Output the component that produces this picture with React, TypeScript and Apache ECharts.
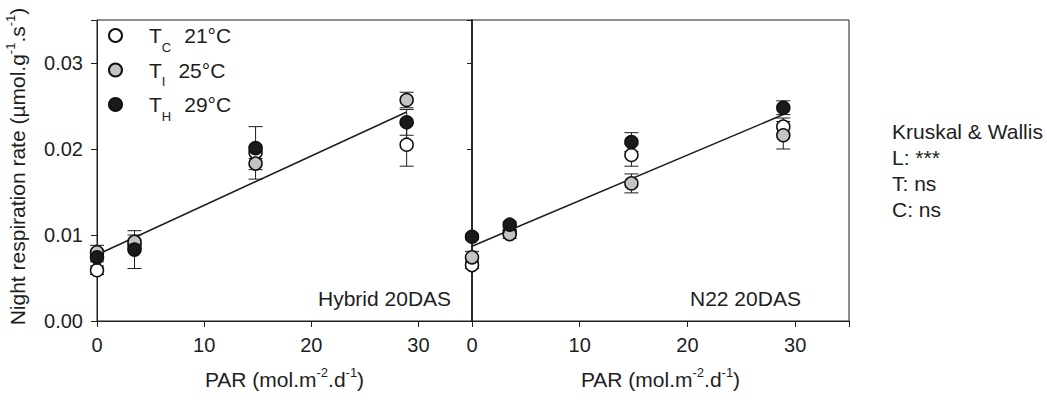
import React, { useEffect, useRef } from 'react';
import * as echarts from 'echarts';

// PAR levels (mol.m-2.d-1)
const par = [0, 3.5, 14.8, 28.9];
const seriesNames = ['Tc', 'Ti', 'Th'];
const legendSub = ['C', 'I', 'H'];
const legendTemp = ['21°C', '25°C', '29°C'];
const xTicks = [0, 10, 20, 30];
const yTicks = [0, 0.01, 0.02, 0.03];

// Hybrid 20DAS
const hybTc = [0.0059, 0.0088, 0.0196, 0.0205];
const hybTcErr = [0.0005, 0.0005, 0.0007, 0.0025];
const hybTi = [0.0080, 0.0092, 0.0183, 0.0257];
const hybTiErr = [0.0008, 0.0008, 0.0018, 0.0009];
const hybTh = [0.0074, 0.0083, 0.0201, 0.0231];
const hybThErr = [0.0005, 0.0022, 0.0025, 0.0015];
// N22 20DAS
const n22Tc = [0.0065, 0.0103, 0.0193, 0.0226];
const n22TcErr = [0.0004, 0.0003, 0.0013, 0.0010];
const n22Ti = [0.0074, 0.0101, 0.0160, 0.0216];
const n22TiErr = [0.0007, 0.0005, 0.0011, 0.0016];
const n22Th = [0.0098, 0.0112, 0.0208, 0.0248];
const n22ThErr = [0.0003, 0.0003, 0.0011, 0.0008];
// regression lines (end points)
const fitX = [0, 28.9];
const hybFit = [0.0077, 0.0243];
const n22Fit = [0.0087, 0.0240];

const panelLabels = ['Hybrid 20DAS', 'N22 20DAS'];
const statsLines = ['Kruskal & Wallis', 'L: ***', 'T: ns', 'C: ns'];

const FONT = 'Liberation Sans, Arial, Helvetica, sans-serif';
const INK = '#1e1e1e';
const fills = ['#ffffff', '#c3c3c3', '#1a1a1a'];

export default function App() {
  const ref = useRef<HTMLDivElement>(null);
  useEffect(() => {
    if (!ref.current) return;
    const chart = echarts.init(ref.current, undefined, { renderer: 'svg' });

    const panels = [
      { vals: [hybTc, hybTi, hybTh], errs: [hybTcErr, hybTiErr, hybThErr], fit: hybFit },
      { vals: [n22Tc, n22Ti, n22Th], errs: [n22TcErr, n22TiErr, n22ThErr], fit: n22Fit },
    ];

    const series: any[] = [];
    panels.forEach((p, pi) => {
      // error bars
      p.vals.forEach((vals, si) => {
        series.push({
          type: 'custom',
          name: seriesNames[si] + '_err',
          xAxisIndex: pi,
          yAxisIndex: pi,
          z: 1,
          silent: true,
          data: vals.map((v, i) => [par[i], v, p.errs[si][i]]),
          renderItem: (params: any, api: any) => {
            const x = api.value(0);
            const y = api.value(1);
            const e = api.value(2);
            const top = api.coord([x, y + e]);
            const bot = api.coord([x, y - e]);
            const hw = 7;
            const st = { stroke: INK, lineWidth: 1 };
            return {
              type: 'group',
              children: [
                { type: 'line', shape: { x1: top[0], y1: top[1], x2: bot[0], y2: bot[1] }, style: st },
                { type: 'line', shape: { x1: top[0] - hw, y1: top[1], x2: top[0] + hw, y2: top[1] }, style: st },
                { type: 'line', shape: { x1: bot[0] - hw, y1: bot[1], x2: bot[0] + hw, y2: bot[1] }, style: st },
              ],
            };
          },
        });
      });
      // regression line
      series.push({
        type: 'line',
        name: 'fit' + pi,
        xAxisIndex: pi,
        yAxisIndex: pi,
        z: 2,
        symbol: 'none',
        silent: true,
        lineStyle: { color: INK, width: 1.6 },
        data: fitX.map((x, i) => [x, p.fit[i]]),
      });
      // points
      p.vals.forEach((vals, si) => {
        series.push({
          type: 'scatter',
          name: seriesNames[si],
          xAxisIndex: pi,
          yAxisIndex: pi,
          z: 3 + si,
          symbol: 'circle',
          symbolSize: 13,
          itemStyle: { color: fills[si], borderColor: '#111', borderWidth: 1.5, opacity: 1 },
          data: vals.map((v, i) => [par[i], v]),
        });
      });
    });

    const supName = (parts: string[]) =>
      parts.map((t, i) => (i % 2 === 0 ? `{n|${t}}` : `{s|${t}}`)).join('');

    const nameRich = {
      n: { fontSize: 21, fontFamily: FONT, color: INK, lineHeight: 27 },
      s: { fontSize: 13, fontFamily: FONT, color: INK, lineHeight: 13, verticalAlign: 'top' },
    };

    const xAxisBase = (gi: number) => ({
      type: 'value',
      gridIndex: gi,
      min: 0,
      max: 35,
      interval: 10,
      splitLine: { show: false },
      axisLine: { show: true, onZero: false, lineStyle: { color: INK, width: 1 } },
      axisTick: { show: true, inside: false, length: 6, lineStyle: { color: INK } },
      axisLabel: {
        show: true,
        margin: 14,
        fontSize: 20,
        fontFamily: FONT,
        color: INK,
        formatter: (v: number) => (xTicks.includes(v) ? String(v) : ''),
      },
      name: supName(['PAR (mol.m', '-2', '.d', '-1', ')']),
      nameLocation: 'middle',
      nameGap: 45,
      nameTextStyle: { rich: nameRich },
    });

    const option: any = {
      animation: false,
      backgroundColor: '#ffffff',
      textStyle: { fontFamily: FONT, color: INK },
      grid: [
        { left: 97, top: 20, width: 375, height: 301, show: true, borderColor: INK, borderWidth: 1, containLabel: false },
        { left: 472, top: 20, width: 377, height: 301, show: true, borderColor: INK, borderWidth: 1, containLabel: false },
      ],
      xAxis: [xAxisBase(0), xAxisBase(1)],
      yAxis: [
        {
          type: 'value',
          gridIndex: 0,
          min: 0,
          max: 0.035,
          interval: 0.01,
          splitLine: { show: false },
          axisLine: { show: true, onZero: false, lineStyle: { color: INK } },
          axisTick: { show: true, inside: false, length: 6, lineStyle: { color: INK } },
          axisLabel: {
            margin: 14,
            fontSize: 20,
            fontFamily: FONT,
            color: INK,
            formatter: (v: number) => {
              const t = yTicks.find((k) => Math.abs(k - v) < 1e-9);
              return t === undefined ? '' : t.toFixed(2);
            },
          },
          name: supName(['Night respiration rate (µmol.g', '-1', '.s', '-1', ')']),
          nameLocation: 'middle',
          nameRotate: 90,
          nameGap: 66,
          nameTextStyle: { rich: nameRich, padding: [0, 0, 0, 8] },
        },
        {
          type: 'value',
          gridIndex: 1,
          min: 0,
          max: 0.035,
          interval: 0.01,
          splitLine: { show: false },
          axisLine: { show: true, onZero: false, lineStyle: { color: INK, width: 1.5 } },
          axisTick: { show: true, inside: false, length: 5, lineStyle: { color: INK } },
          axisLabel: { show: false },
        },
      ],
      legend: {
        data: seriesNames,
        orient: 'vertical',
        left: 108,
        top: 25,
        padding: 0,
        itemWidth: 13,
        itemHeight: 13,
        itemGap: 6,
        icon: 'circle',
        selectedMode: false,
        formatter: (name: string) => {
          const i = seriesNames.indexOf(name);
          return `{t|T}{sub|${legendSub[i]}}{v|${legendTemp[i]}}`;
        },
        textStyle: {
          fontFamily: FONT,
          color: INK,
          rich: {
            t: { fontSize: 21, fontFamily: FONT, color: INK, lineHeight: 36, padding: [0, 0, 0, 22] },
            sub: { fontSize: 13, fontFamily: FONT, color: INK, lineHeight: 14, verticalAlign: 'bottom' },
            v: { fontSize: 21, fontFamily: FONT, color: INK, lineHeight: 36, padding: [0, 0, 0, 13] },
          },
        },
      },
      graphic: [
        {
          type: 'text',
          left: 318,
          top: 288,
          style: { text: panelLabels[0], fontSize: 21, fontFamily: FONT, fill: INK },
        },
        {
          type: 'text',
          left: 690,
          top: 288,
          style: { text: panelLabels[1], fontSize: 21, fontFamily: FONT, fill: INK },
        },
        {
          type: 'text',
          left: 892,
          top: 118,
          style: { text: statsLines.join('\n'), fontSize: 21, lineHeight: 26, fontFamily: FONT, fill: INK },
        },
      ],
      series,
    };

    chart.setOption(option);
    return () => chart.dispose();
  }, []);

  return (
    <div
      ref={ref}
      style={{ position: 'absolute', left: 0, top: 0, width: 1047, height: 410, background: '#fff' }}
    />
  );
}
